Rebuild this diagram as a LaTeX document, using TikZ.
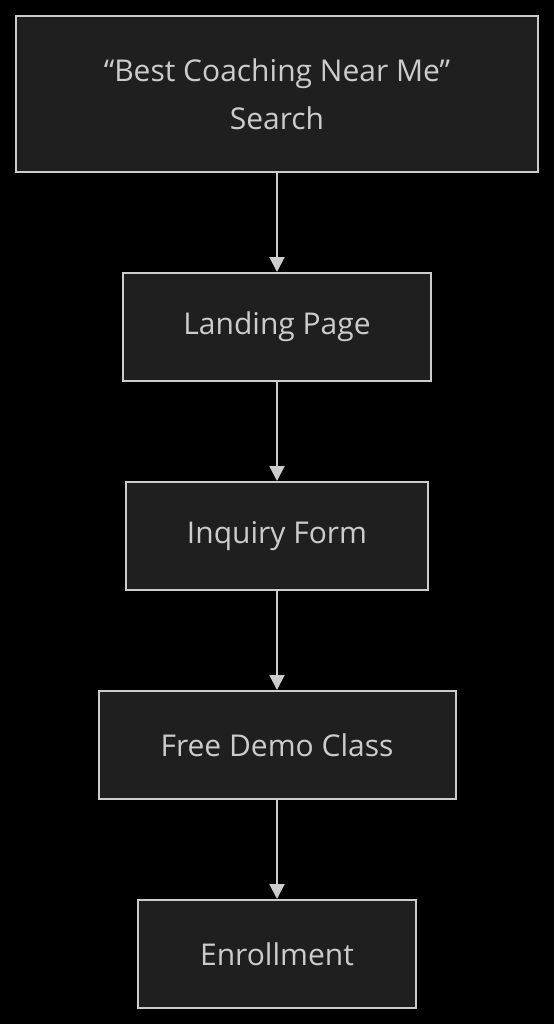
\documentclass[tikz,border=0pt]{standalone}
\usepackage{fontspec}
\setmainfont{Open Sans}
\usetikzlibrary{positioning, arrows.meta}
\definecolor{boxfill}{HTML}{1F1F1F}
\definecolor{linegray}{HTML}{CCCCCC}
\begin{document}
\begin{tikzpicture}[>={Triangle[width=15pt, length=15pt]}, x=1pt, y=1pt,
  font=\fontsize{30}{48}\selectfont, align=center, node distance=99pt,
  stage/.style={draw=linegray, line width=2pt, fill=boxfill, text=linegray,
    minimum height=108pt, inner sep=0pt},
  flow/.style={->, draw=linegray, line width=2pt}]
\fill[black] (0,0) rectangle (554,-1024);
\useasboundingbox (0,0) rectangle (554,-1024);

\node[stage, minimum width=522pt, minimum height=156pt] (search) at (277,-94) {“Best Coaching Near Me”\\Search};
\node[stage, minimum width=308pt, below = of search] (landing) {Landing Page};
\node[stage, minimum width=302pt, below = of landing] (inquiry) {Inquiry Form};
\node[stage, minimum width=357pt, below = of inquiry] (demo) {Free Demo Class};
\node[stage, minimum width=278pt, below = of demo] (enroll) {Enrollment};

\draw[flow] (search) -- (landing);
\draw[flow] (landing) -- (inquiry);
\draw[flow] (inquiry) -- (demo);
\draw[flow] (demo) -- (enroll);
\end{tikzpicture}
\end{document}
